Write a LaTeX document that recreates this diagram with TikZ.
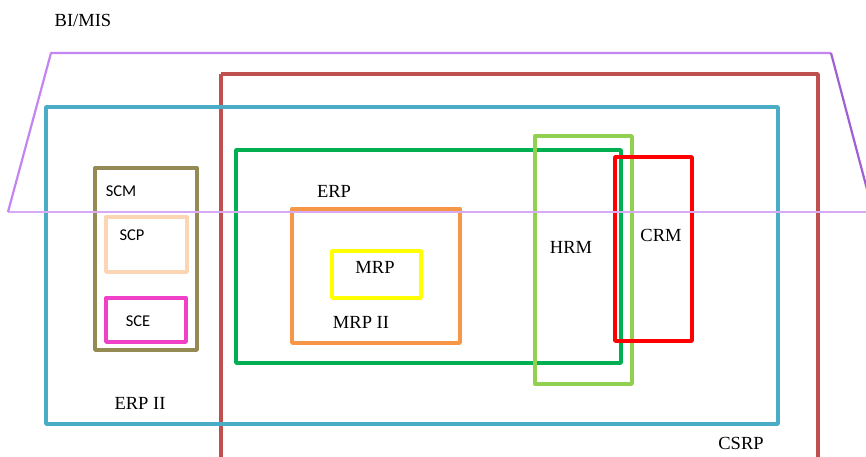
\documentclass[tikz,border=0pt]{standalone}
\usepackage{fontspec}
\setmainfont{Liberation Serif}
\newfontfamily\calibri{Carlito}
\definecolor{lilac}{HTML}{C485F2}
\definecolor{lilacdark}{HTML}{9F60D6}
\definecolor{lilaclight}{HTML}{D8AAF4}
\definecolor{csrpred}{HTML}{C0504D}
\definecolor{erpblue}{HTML}{4BACC6}
\definecolor{erpgreen}{HTML}{00B050}
\definecolor{hrmgreen}{HTML}{92D050}
\definecolor{scmolive}{HTML}{948A54}
\definecolor{scppeach}{HTML}{FCD5B5}
\definecolor{scemag}{HTML}{F040C8}
\definecolor{mrporange}{HTML}{F79646}
\definecolor{mrpyellow}{HTML}{FFFF00}
\tikzset{
  box/.style={line width=3.4pt, line join=round},
  serlab/.style={font=\fontsize{18.5}{20}\selectfont, inner sep=0pt},
  sanlab/.style={font=\calibri\fontsize{16.5}{18}\selectfont, inner sep=0pt},
}
\begin{document}
\begin{tikzpicture}[x=1pt,y=-1pt]
\useasboundingbox (0,0) rectangle (866,456);
\clip (0,0) rectangle (866,456);
\fill[white] (0,0) rectangle (866,456);
% CSRP
\draw[box, csrpred] (221,74) -- (818,74) -- (818,470) (221,470) -- (221,74);
% ERP II
\draw[box, erpblue] (46,107) rectangle (778,424);
% ERP
\draw[box, erpgreen] (236,150) rectangle (621,363);
% HRM
\draw[box, hrmgreen] (535,136) rectangle (632,384);
% CRM
\draw[box, red, line width=3.8pt] (615,157) rectangle (692,341);
% SCM
\draw[box, scmolive] (95,168) rectangle (197,350);
\draw[box, scppeach] (106,217) rectangle (187,272);
\draw[box, scemag] (106,298) rectangle (186,342);
% MRP II / MRP
\draw[box, mrporange] (292,209) rectangle (460,343);
\draw[box, mrpyellow] (332,251) rectangle (421,298);
% BI/MIS trapezoid
\draw[lilaclight, line width=2pt] (8,212) -- (880,212);
\draw[lilac, line width=2.2pt, line join=round] (8,212) -- (51,53) -- (831,53);
\draw[lilacdark, line width=2.2pt, line join=round] (831,53) -- (873,212);
% labels
\node[serlab] (bimis) at (83,20) {BI/MIS};
\node[serlab] (csrp) at (741,443) {CSRP};
\node[serlab] (erpii) at (140,403) {ERP II};
\node[serlab] (erp) at (334,191) {ERP};
\node[serlab] (mrpii) at (361,322) {MRP II};
\node[serlab] (mrp) at (375,267) {MRP};
\node[serlab] (hrm) at (571,247) {HRM};
\node[serlab] (crm) at (661,235) {CRM};
\node[sanlab] (scm) at (121,191) {SCM};
\node[sanlab] (scp) at (132,235) {SCP};
\node[sanlab] (sce) at (138,321) {SCE};
\end{tikzpicture}
\end{document}
